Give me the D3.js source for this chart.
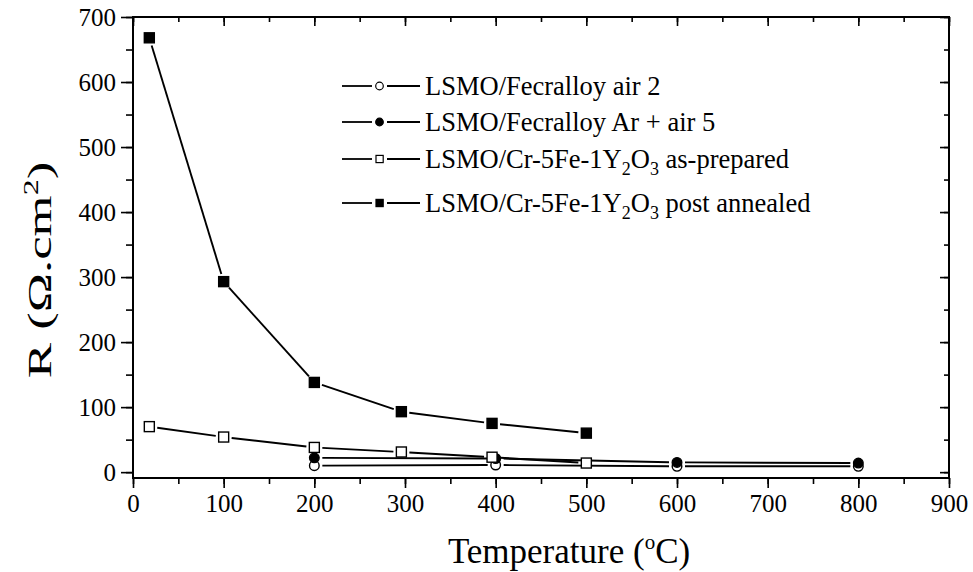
<!DOCTYPE html>
<html>
<head>
<meta charset="utf-8">
<script src="https://cdn.jsdelivr.net/npm/d3@7"></script>
<style>
  body { margin: 0; background: #fff; }
  svg { display: block; }
  text { font-family: "Liberation Serif", "Times New Roman", serif; fill: #000; }
</style>
</head>
<body>
<svg id="chart" width="973" height="572"></svg>
<script>
// ---- data ----
const xTickValues = [0, 100, 200, 300, 400, 500, 600, 700, 800, 900];
const yTickValues = [0, 100, 200, 300, 400, 500, 600, 700];

const tempAir2 = [200, 400, 600, 800];
const rAir2    = [10, 11, 9, 9];

const tempArAir5 = [200, 400, 600, 800];
const rArAir5    = [22, 21, 15, 14];

const tempAsPrepared = [18, 100, 200, 296, 396, 500];
const rAsPrepared    = [70, 54, 38, 31, 23, 14];

const tempAnnealed = [18, 100, 200, 296, 396, 500];
const rAnnealed    = [668, 293, 138, 93, 75, 60];

const seriesNames = [
  "LSMO/Fecralloy air 2",
  "LSMO/Fecralloy Ar + air 5",
  "LSMO/Cr-5Fe-1Y2O3 as-prepared",
  "LSMO/Cr-5Fe-1Y2O3 post annealed"
];

// ---- layout ----
const FONT = '"Liberation Serif", "Times New Roman", serif';
const svg = d3.select("#chart");
const L = 133, R = 949, T = 17, B = 478;
const x = d3.scaleLinear().domain([0, 900]).range([L, R]);
const y = d3.scaleLinear().domain([-9, 700]).range([B, T]);

const minorX = d3.range(0, 901, 50);
const minorY = d3.range(0, 701, 50);

function drawTicks(g, axis) {
  g.call(axis);
  g.attr("font-family", FONT);
  g.select(".domain").remove();
  g.selectAll("line").attr("stroke", "#000").attr("stroke-width", 1.6);
  g.selectAll("text").style("font-family", FONT).style("font-size", "25px").attr("fill", "#000");
}

svg.append("g").attr("transform", `translate(0,${B})`)
  .call(g => drawTicks(g, d3.axisBottom(x).tickValues(minorX).tickSize(6).tickFormat("")));
svg.append("g").attr("transform", `translate(0,${B})`)
  .call(g => drawTicks(g, d3.axisBottom(x).tickValues(xTickValues).tickSize(10).tickPadding(6).tickFormat(d3.format("d"))));

svg.append("g").attr("transform", `translate(0,${T})`)
  .call(g => drawTicks(g, d3.axisTop(x).tickValues(minorX).tickSize(-5).tickFormat("")));
svg.append("g").attr("transform", `translate(0,${T})`)
  .call(g => drawTicks(g, d3.axisTop(x).tickValues(xTickValues).tickSize(-9).tickFormat("")));

svg.append("g").attr("transform", `translate(${L},0)`)
  .call(g => drawTicks(g, d3.axisLeft(y).tickValues(minorY).tickSize(7).tickFormat("")));
svg.append("g").attr("transform", `translate(${L},0)`)
  .call(g => drawTicks(g, d3.axisLeft(y).tickValues(yTickValues).tickSize(12).tickPadding(5).tickFormat(d3.format("d"))));

svg.append("g").attr("transform", `translate(${R},0)`)
  .call(g => drawTicks(g, d3.axisRight(y).tickValues(minorY).tickSize(-5).tickFormat("")));
svg.append("g").attr("transform", `translate(${R},0)`)
  .call(g => drawTicks(g, d3.axisRight(y).tickValues(yTickValues).tickSize(-9).tickFormat("")));

// frame
svg.append("rect").attr("x", L).attr("y", T).attr("width", R - L).attr("height", B - T)
  .attr("fill", "none").attr("stroke", "#000").attr("stroke-width", 2);

// ---- series ----
const series = [
  { t: tempAir2, r: rAir2, shape: "circle", fill: "#fff" },
  { t: tempArAir5, r: rArAir5, shape: "circle", fill: "#000" },
  { t: tempAsPrepared, r: rAsPrepared, shape: "square", fill: "#fff" },
  { t: tempAnnealed, r: rAnnealed, shape: "square", fill: "#000" }
];

const gap = 8;
const plot = svg.append("g");
series.forEach(s => {
  const pts = s.t.map((t, i) => [x(t), y(s.r[i])]);
  for (let i = 0; i < pts.length - 1; i++) {
    const [x1, y1] = pts[i], [x2, y2] = pts[i + 1];
    const dx = x2 - x1, dy = y2 - y1, len = Math.hypot(dx, dy);
    if (len <= 2 * gap) continue;
    const ux = dx / len, uy = dy / len;
    plot.append("line")
      .attr("x1", x1 + ux * gap).attr("y1", y1 + uy * gap)
      .attr("x2", x2 - ux * gap).attr("y2", y2 - uy * gap)
      .attr("stroke", "#000").attr("stroke-width", 1.9);
  }
});
series.forEach(s => {
  const pts = s.t.map((t, i) => [x(t), y(s.r[i])]);
  pts.forEach(([px, py]) => {
    if (s.shape === "circle") {
      plot.append("circle").attr("cx", px).attr("cy", py).attr("r", 4.8)
        .attr("fill", s.fill).attr("stroke", "#000").attr("stroke-width", 1.4);
    } else {
      plot.append("rect").attr("x", px - 5).attr("y", py - 5).attr("width", 10).attr("height", 10)
        .attr("fill", s.fill).attr("stroke", "#000").attr("stroke-width", 1.4);
    }
  });
});

// ---- legend ----
const legendRows = [86, 122, 159, 203];
const leg = svg.append("g");
series.forEach((s, i) => {
  const ly = legendRows[i];
  leg.append("line").attr("x1", 342).attr("x2", 372).attr("y1", ly).attr("y2", ly).attr("stroke", "#000").attr("stroke-width", 1.8);
  leg.append("line").attr("x1", 387).attr("x2", 420).attr("y1", ly).attr("y2", ly).attr("stroke", "#000").attr("stroke-width", 1.8);
  if (s.shape === "circle") {
    leg.append("circle").attr("cx", 379.5).attr("cy", ly).attr("r", 3.8)
      .attr("fill", s.fill).attr("stroke", "#000").attr("stroke-width", 1.2);
  } else {
    leg.append("rect").attr("x", 376).attr("y", ly - 3.6).attr("width", 7.2).attr("height", 7.2)
      .attr("fill", s.fill).attr("stroke", "#000").attr("stroke-width", 1.2);
  }
  const txt = leg.append("text").attr("x", 425).attr("y", ly + 8.5).style("font-size", "26.5px");
  const name = seriesNames[i];
  if (name.includes("Y2O3")) {
    const [pre, post] = name.split("Y2O3");
    txt.append("tspan").text(pre + "Y");
    txt.append("tspan").text("2").attr("dy", 7).style("font-size", "18px");
    txt.append("tspan").text("O").attr("dy", -7);
    txt.append("tspan").text("3").attr("dy", 7).style("font-size", "18px");
    txt.append("tspan").text(post).attr("dy", -7);
  } else {
    txt.text(name);
  }
});

// ---- axis titles ----
const xt = svg.append("text").attr("x", 569).attr("y", 563).attr("text-anchor", "middle").style("font-size", "35px");
xt.append("tspan").text("Temperature (");
xt.append("tspan").text("o").attr("dy", -14).style("font-size", "21px");
xt.append("tspan").text("C)").attr("dy", 14);

const yt = svg.append("text").attr("transform", "translate(51,270) rotate(-90) scale(1.6,1)").attr("text-anchor", "middle").style("font-size", "33px");
yt.append("tspan").text("R (Ω.cm");
yt.append("tspan").text("2").attr("dy", -13).style("font-size", "20px");
yt.append("tspan").text(")").attr("dy", 13);
</script>
</body>
</html>
